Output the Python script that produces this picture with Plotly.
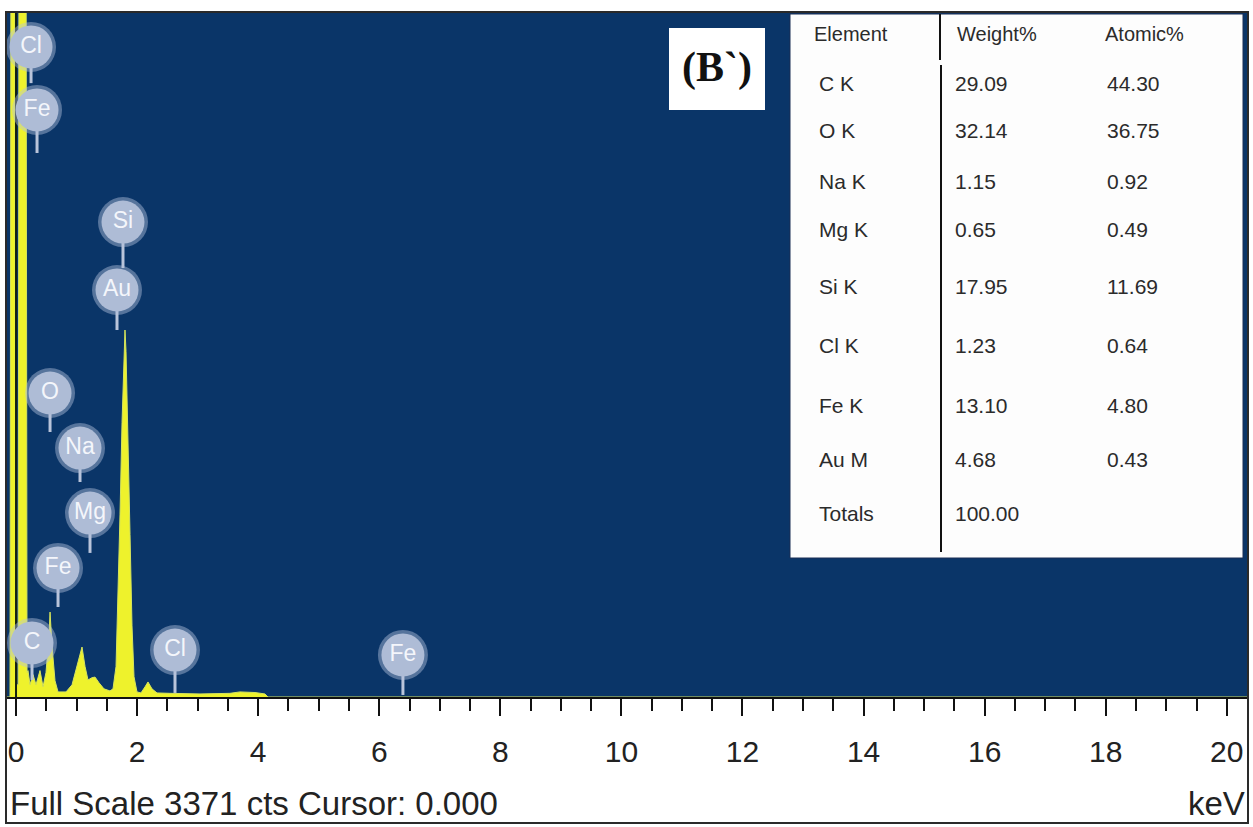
import plotly.graph_objects as go

# ---- spectrum outline (energy in keV, intensity in counts) ----
energy_kev = [-0.149, -0.099, -0.083, -0.020, -0.005, 0.035, 0.050, 0.165, 0.182, 0.198,
              0.231, 0.281, 0.330, 0.396, 0.446, 0.495, 0.545, 0.562, 0.595, 0.644,
              0.694, 0.826, 0.925, 1.007, 1.090, 1.140, 1.189, 1.255, 1.305, 1.371,
              1.453, 1.552, 1.602, 1.652, 1.685, 1.718, 1.751, 1.784, 1.800, 1.817,
              1.850, 1.883, 1.916, 1.949, 1.998, 2.064, 2.131, 2.180, 2.246, 2.329,
              2.543, 3.039, 3.534, 3.699, 3.947, 4.112, 4.162, 20.35]
counts = [0, 0, 4000, 4000, 60, 60, 4000, 4000, 120, 130,
          60, 110, 60, 130, 50, 120, 300, 418, 250, 80,
          25, 25, 60, 150, 246, 150, 84, 95, 98, 70,
          40, 30, 40, 150, 480, 900, 1350, 1700, 1806, 1700,
          1300, 800, 350, 100, 25, 20, 50, 74, 40, 20,
          18, 15, 18, 25, 22, 15, 0, 0]

FULL_SCALE = 3371
CURSOR_KEV = 0.000

# ---- peak identification tags ----
tag_names = ["Cl", "Fe", "Si", "Au", "O", "Na", "Mg", "Fe", "C", "Cl", "Fe"]
tag_kev = [0.248, 0.347, 1.767, 1.668, 0.562, 1.057, 1.222, 0.694, 0.264, 2.626, 6.391]
tag_level = [3199, 2889, 2337, 2003, 1496, 1225, 905, 635, 266, 231, 207]
tag_stem_end = [3021, 2677, 2111, 1806, 1304, 1058, 709, 443, 84, 20, 10]

# ---- quantification table ----
table_elements = ["C K", "O K", "Na K", "Mg K", "Si K", "Cl K", "Fe K", "Au M", "Totals"]
table_weight = ["29.09", "32.14", "1.15", "0.65", "17.95", "1.23", "13.10", "4.68", "100.00"]
table_atomic = ["44.30", "36.75", "0.92", "0.49", "11.69", "0.64", "4.80", "0.43", ""]
table_headers = ["Element", "Weight%", "Atomic%"]

W, H = 1253, 827
PL, PR, PT, PB = 7, 1248, 12, 697  # plot area in pixels
NAVY = "#0a3568"


def px(x):
    return (x - PL) / (PR - PL)


def py(y):
    return (PB - y) / (PB - PT)


fig = go.Figure()

# spectrum
fig.add_trace(go.Scatter(
    x=energy_kev, y=counts, mode="lines", fill="tozeroy",
    line=dict(color="#d6e45c", width=1), fillcolor="#eef22c",
    hoverinfo="skip", showlegend=False))

# cursor line
fig.add_trace(go.Scatter(
    x=[CURSOR_KEV, CURSOR_KEV], y=[0, FULL_SCALE], mode="lines",
    line=dict(color="#14200f", width=2), hoverinfo="skip", showlegend=False))

# tag stems
for k, lvl, end in zip(tag_kev, tag_level, tag_stem_end):
    fig.add_trace(go.Scatter(
        x=[k, k], y=[lvl, end], mode="lines",
        line=dict(color="#b9c4da", width=3), hoverinfo="skip", showlegend=False))

# tag bubbles (soft halo + body + label)
fig.add_trace(go.Scatter(
    x=tag_kev, y=tag_level, mode="markers",
    marker=dict(size=50, color="rgba(180,194,220,0.45)", line=dict(width=0)),
    hoverinfo="skip", showlegend=False))
fig.add_trace(go.Scatter(
    x=tag_kev, y=tag_level, mode="markers+text", text=tag_names,
    textposition="middle center",
    textfont=dict(family="Liberation Sans, Arial", size=23, color="#f4f6fb"),
    marker=dict(size=43, color="#aebcd6", line=dict(width=0)),
    hoverinfo="skip", showlegend=False))

shapes = []
annotations = []

# outer frame
shapes.append(dict(type="rect", xref="paper", yref="paper",
                   x0=px(6), x1=px(1248), y0=py(823), y1=py(12),
                   line=dict(color="#2a2a2a", width=2), fillcolor="rgba(0,0,0,0)"))

# table box
shapes.append(dict(type="rect", xref="paper", yref="paper",
                   x0=px(790), x1=px(1243), y0=py(558), y1=py(14),
                   line=dict(color="#1b2f55", width=1), fillcolor="#fdfdfd", layer="above"))
shapes.append(dict(type="line", xref="paper", yref="paper",
                   x0=px(940), x1=px(940), y0=py(14), y1=py(60),
                   line=dict(color="#111111", width=2), layer="above"))
shapes.append(dict(type="line", xref="paper", yref="paper",
                   x0=px(941), x1=px(941), y0=py(65), y1=py(552),
                   line=dict(color="#111111", width=2), layer="above"))

# panel label box
shapes.append(dict(type="rect", xref="paper", yref="paper",
                   x0=px(669), x1=px(765), y0=py(110), y1=py(28),
                   line=dict(width=0), fillcolor="#ffffff", layer="above"))
annotations.append(dict(xref="paper", yref="paper", x=px(717), y=py(68),
                        text="<b>(B`)</b>", showarrow=False,
                        font=dict(family="Liberation Serif, Times New Roman", size=42, color="#111111"),
                        xanchor="center", yanchor="middle"))

tfont = dict(family="Liberation Sans, Arial", size=21, color="#2b2b2b")
hfont = dict(family="Liberation Sans, Arial", size=20, color="#2b2b2b")
for txt, xx in zip(table_headers, [812, 955, 1103]):
    annotations.append(dict(xref="paper", yref="paper", x=px(xx), y=py(34), text=txt,
                            showarrow=False, font=hfont, xanchor="left", yanchor="middle"))
row_y = [84, 130, 181, 230, 287, 345, 405, 459, 513]
for el, wt, at, yy in zip(table_elements, table_weight, table_atomic, row_y):
    annotations.append(dict(xref="paper", yref="paper", x=px(817), y=py(yy), text=el,
                            showarrow=False, font=tfont, xanchor="left", yanchor="middle"))
    annotations.append(dict(xref="paper", yref="paper", x=px(953), y=py(yy), text=wt,
                            showarrow=False, font=tfont, xanchor="left", yanchor="middle"))
    if at:
        annotations.append(dict(xref="paper", yref="paper", x=px(1105), y=py(yy), text=at,
                                showarrow=False, font=tfont, xanchor="left", yanchor="middle"))

# status line under the axis
bfont = dict(family="Liberation Sans, Arial", size=33, color="#222222")
annotations.append(dict(xref="paper", yref="paper", x=px(8), y=py(803),
                        text=f"Full Scale {FULL_SCALE} cts Cursor: {CURSOR_KEV:.3f}",
                        showarrow=False, font=bfont, xanchor="left", yanchor="middle"))
annotations.append(dict(xref="paper", yref="paper", x=px(1247), y=py(803), text="keV",
                        showarrow=False, font=bfont, xanchor="right", yanchor="middle"))

fig.update_layout(
    width=W, height=H,
    margin=dict(l=PL, r=W - PR, t=PT, b=H - PB, pad=0),
    paper_bgcolor="#ffffff", plot_bgcolor=NAVY,
    shapes=shapes, annotations=annotations,
    showlegend=False,
    xaxis=dict(range=[-0.149, 20.35], showgrid=False, zeroline=False,
               tick0=0, dtick=2, ticks="outside", ticklen=17, tickwidth=2,
               tickcolor="#111111", showline=True, linecolor="#111111", linewidth=2,
               ticklabelstandoff=10,
               tickfont=dict(family="Liberation Sans, Arial", size=30, color="#222222"),
               minor=dict(dtick=0.5, tick0=0, ticks="outside", ticklen=12, tickwidth=2,
                          tickcolor="#111111", showgrid=False)),
    yaxis=dict(range=[0, FULL_SCALE], showgrid=False, zeroline=False,
               showticklabels=False, ticks="", showline=False),
)

fig.write_html("out.html")
